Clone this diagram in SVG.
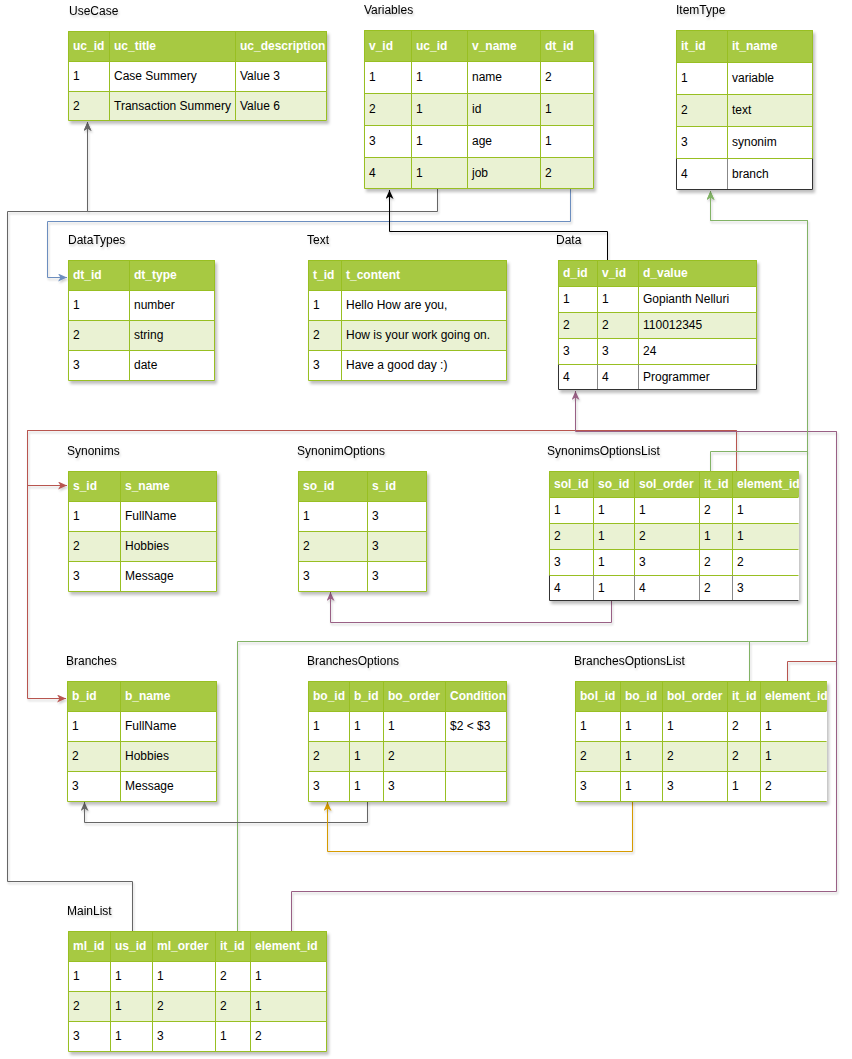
<svg xmlns="http://www.w3.org/2000/svg" width="852" height="1059" viewBox="0 0 852 1059">
<style>
text{font-family:"Liberation Sans",Arial,sans-serif;font-size:12px;}
.lbl{fill:#000;}
.ht{fill:#fff;font-weight:bold;}
.ct{fill:#000;}
.hdr{fill:#A7C942;}
.w{fill:#fff;}
.alt{fill:#EAF2D3;}
.grid{fill:none;stroke:#98bf21;stroke-width:1;}
.dk{fill:none;stroke:#333;stroke-width:1;}
.dkv{fill:none;stroke:#888;stroke-width:1;}
.edge{fill:none;stroke-width:1;}
</style>
<defs>
<filter id="sh" x="-10%" y="-10%" width="130%" height="130%"><feDropShadow dx="2" dy="3" stdDeviation="1.5" flood-color="#000" flood-opacity="0.25"/></filter>
<filter id="tsh" x="-10%" y="-30%" width="130%" height="180%"><feDropShadow dx="1" dy="2" stdDeviation="1" flood-color="#000" flood-opacity="0.2"/></filter>
<marker id="aGray" markerUnits="userSpaceOnUse" markerWidth="10" markerHeight="8" refX="9" refY="4" orient="auto"><path d="M0,0 L9,4 L0,8 L2.5,4 Z" fill="#666"/></marker>
<marker id="aBlue" markerUnits="userSpaceOnUse" markerWidth="10" markerHeight="8" refX="9" refY="4" orient="auto"><path d="M0,0 L9,4 L0,8 L2.5,4 Z" fill="#6c8ebf"/></marker>
<marker id="aBlack" markerUnits="userSpaceOnUse" markerWidth="10" markerHeight="8" refX="9" refY="4" orient="auto"><path d="M0,0 L9,4 L0,8 L2.5,4 Z" fill="#000"/></marker>
<marker id="aRed" markerUnits="userSpaceOnUse" markerWidth="10" markerHeight="8" refX="9" refY="4" orient="auto"><path d="M0,0 L9,4 L0,8 L2.5,4 Z" fill="#b85450"/></marker>
<marker id="aMauve" markerUnits="userSpaceOnUse" markerWidth="10" markerHeight="8" refX="9" refY="4" orient="auto"><path d="M0,0 L9,4 L0,8 L2.5,4 Z" fill="#996185"/></marker>
<marker id="aGreen" markerUnits="userSpaceOnUse" markerWidth="10" markerHeight="8" refX="9" refY="4" orient="auto"><path d="M0,0 L9,4 L0,8 L2.5,4 Z" fill="#82b366"/></marker>
<marker id="aYellow" markerUnits="userSpaceOnUse" markerWidth="10" markerHeight="8" refX="9" refY="4" orient="auto"><path d="M0,0 L9,4 L0,8 L2.5,4 Z" fill="#d79b00"/></marker>
</defs>
<rect width="852" height="1059" fill="#fff"/>

<g id="connectors" filter="url(#tsh)">
<path class="edge" stroke="#666" d="M132.5,931 V881.5 H7.5 V211.5 H87.5 V122" marker-end="url(#aGray)"/>
<path class="edge" stroke="#666" d="M437.5,189 V211.5 H87.5 V122" marker-end="url(#aGray)"/>
<path class="edge" stroke="#6c8ebf" d="M570.5,189 V221.5 H47.5 V277.5 H67" marker-end="url(#aBlue)"/>
<path class="edge" stroke="#000" d="M607.5,260 V231.5 H389.5 V190" marker-end="url(#aBlack)"/>
<path class="edge" stroke="#b85450" d="M787.5,681 V661.5 H836.5 V431.5"/>
<path class="edge" stroke="#b85450" d="M736.5,471 V430.5 H27.5 V485.5 H67" marker-end="url(#aRed)"/>
<path class="edge" stroke="#b85450" d="M736.5,471 V430.5 H27.5 V698.5 H66" marker-end="url(#aRed)"/>
<path class="edge" stroke="#996185" d="M291.5,931 V891.5 H836.5 V431.5 H575.5 V391" marker-end="url(#aMauve)"/>
<path class="edge" stroke="#996185" d="M611.5,601 V622.5 H330.5 V592" marker-end="url(#aMauve)"/>
<path class="edge" stroke="#82b366" d="M237.5,931 V641.5 H807.5 V220.5 H710.5 V191" marker-end="url(#aGreen)"/>
<path class="edge" stroke="#82b366" d="M710.5,471 V451.5 H807.5 V220.5 H710.5 V191" marker-end="url(#aGreen)"/>
<path class="edge" stroke="#82b366" d="M749.5,681 V641.5 H807.5"/>
<path class="edge" stroke="#666" d="M367.5,801 V822.5 H84.5 V802" marker-end="url(#aGray)"/>
<path class="edge" stroke="#d79b00" d="M632.5,801 V851.5 H327.5 V802" marker-end="url(#aYellow)"/>
</g>

<g id="usecase">
<text class="lbl" x="69" y="15" filter="url(#tsh)">UseCase</text>
<g filter="url(#sh)">
<rect class="hdr" x="68" y="31" width="259" height="30"/>
<rect class="w" x="68" y="61" width="259" height="30"/>
<rect class="alt" x="68" y="91" width="259" height="30"/>
<path class="grid" d="M68.5,31.5 H326.5 V120.5 H68.5 Z M68.5,61.5 H326.5 M68.5,91.5 H326.5 M109.5,31.5 V120.5 M235.5,31.5 V120.5"/>
</g>
<text class="ht" x="73" y="50">uc_id</text><text class="ht" x="114" y="50">uc_title</text><text class="ht" x="240" y="50">uc_description</text>
<text class="ct" x="73" y="80">1</text><text class="ct" x="114" y="80">Case Summery</text><text class="ct" x="240" y="80">Value 3</text>
<text class="ct" x="73" y="110">2</text><text class="ct" x="114" y="110">Transaction Summery</text><text class="ct" x="240" y="110">Value 6</text>
</g>

<g id="variables">
<text class="lbl" x="364" y="14" filter="url(#tsh)">Variables</text>
<g filter="url(#sh)">
<rect class="hdr" x="364" y="30" width="230" height="31"/>
<rect class="w" x="364" y="61" width="230" height="32"/>
<rect class="alt" x="364" y="93" width="230" height="32"/>
<rect class="w" x="364" y="125" width="230" height="32"/>
<rect class="alt" x="364" y="157" width="230" height="32"/>
<path class="grid" d="M364.5,30.5 H593.5 V188.5 H364.5 Z M364.5,61.5 H593.5 M364.5,93.5 H593.5 M364.5,125.5 H593.5 M364.5,157.5 H593.5 M411.5,30.5 V188.5 M467.5,30.5 V188.5 M540.5,30.5 V188.5"/>
</g>
<text class="ht" x="369" y="50">v_id</text><text class="ht" x="416" y="50">uc_id</text><text class="ht" x="472" y="50">v_name</text><text class="ht" x="545" y="50">dt_id</text>
<text class="ct" x="369" y="81">1</text><text class="ct" x="416" y="81">1</text><text class="ct" x="472" y="81">name</text><text class="ct" x="545" y="81">2</text>
<text class="ct" x="369" y="113">2</text><text class="ct" x="416" y="113">1</text><text class="ct" x="472" y="113">id</text><text class="ct" x="545" y="113">1</text>
<text class="ct" x="369" y="145">3</text><text class="ct" x="416" y="145">1</text><text class="ct" x="472" y="145">age</text><text class="ct" x="545" y="145">1</text>
<text class="ct" x="369" y="177">4</text><text class="ct" x="416" y="177">1</text><text class="ct" x="472" y="177">job</text><text class="ct" x="545" y="177">2</text>
</g>

<g id="itemtype">
<text class="lbl" x="676" y="14" filter="url(#tsh)">ItemType</text>
<g filter="url(#sh)">
<rect class="hdr" x="676" y="30" width="137" height="32"/>
<rect class="w" x="676" y="62" width="137" height="32"/>
<rect class="alt" x="676" y="94" width="137" height="32"/>
<rect class="w" x="676" y="126" width="137" height="32"/>
<rect class="w" x="676" y="158" width="137" height="32"/>
<path class="grid" d="M676.5,158.5 V30.5 H812.5 V158.5 Z M676.5,62.5 H812.5 M676.5,94.5 H812.5 M676.5,126.5 H812.5 M727.5,30.5 V158.5"/>
<path class="dkv" d="M727.5,158.5 V189.5"/>
<path class="dk" d="M676.5,158.5 V189.5 H812.5 V158.5"/>
</g>
<text class="ht" x="681" y="50">it_id</text><text class="ht" x="732" y="50">it_name</text>
<text class="ct" x="681" y="82">1</text><text class="ct" x="732" y="82">variable</text>
<text class="ct" x="681" y="114">2</text><text class="ct" x="732" y="114">text</text>
<text class="ct" x="681" y="146">3</text><text class="ct" x="732" y="146">synonim</text>
<text class="ct" x="681" y="178">4</text><text class="ct" x="732" y="178">branch</text>
</g>

<g id="datatypes">
<text class="lbl" x="68" y="244" filter="url(#tsh)">DataTypes</text>
<g filter="url(#sh)">
<rect class="hdr" x="68" y="260" width="147" height="30"/>
<rect class="w" x="68" y="290" width="147" height="30"/>
<rect class="alt" x="68" y="320" width="147" height="30"/>
<rect class="w" x="68" y="350" width="147" height="30"/>
<path class="grid" d="M68.5,260.5 H214.5 V380.5 H68.5 Z M68.5,290.5 H214.5 M68.5,320.5 H214.5 M68.5,350.5 H214.5 M129.5,260.5 V380.5"/>
</g>
<text class="ht" x="73" y="279">dt_id</text><text class="ht" x="134" y="279">dt_type</text>
<text class="ct" x="73" y="309">1</text><text class="ct" x="134" y="309">number</text>
<text class="ct" x="73" y="339">2</text><text class="ct" x="134" y="339">string</text>
<text class="ct" x="73" y="369">3</text><text class="ct" x="134" y="369">date</text>
</g>

<g id="text">
<text class="lbl" x="307" y="244" filter="url(#tsh)">Text</text>
<g filter="url(#sh)">
<rect class="hdr" x="308" y="260" width="199" height="30"/>
<rect class="w" x="308" y="290" width="199" height="30"/>
<rect class="alt" x="308" y="320" width="199" height="30"/>
<rect class="w" x="308" y="350" width="199" height="30"/>
<path class="grid" d="M308.5,260.5 H506.5 V380.5 H308.5 Z M308.5,290.5 H506.5 M308.5,320.5 H506.5 M308.5,350.5 H506.5 M341.5,260.5 V380.5"/>
</g>
<text class="ht" x="313" y="279">t_id</text><text class="ht" x="346" y="279">t_content</text>
<text class="ct" x="313" y="309">1</text><text class="ct" x="346" y="309">Hello How are you,</text>
<text class="ct" x="313" y="339">2</text><text class="ct" x="346" y="339">How is your work going on.</text>
<text class="ct" x="313" y="369">3</text><text class="ct" x="346" y="369">Have a good day :)</text>
</g>

<g id="data">
<text class="lbl" x="556" y="244" filter="url(#tsh)">Data</text>
<g filter="url(#sh)">
<rect class="hdr" x="558" y="260" width="199" height="26"/>
<rect class="w" x="558" y="286" width="199" height="26"/>
<rect class="alt" x="558" y="312" width="199" height="26"/>
<rect class="w" x="558" y="338" width="199" height="26"/>
<rect class="w" x="558" y="364" width="199" height="26"/>
<path class="grid" d="M558.5,364.5 V260.5 H756.5 V364.5 Z M558.5,286.5 H756.5 M558.5,312.5 H756.5 M558.5,338.5 H756.5 M597.5,260.5 V364.5 M638.5,260.5 V364.5"/>
<path class="dkv" d="M597.5,364.5 V389.5 M638.5,364.5 V389.5"/>
<path class="dk" d="M558.5,364.5 V389.5 H756.5 V364.5"/>
</g>
<text class="ht" x="563" y="277">d_id</text><text class="ht" x="602" y="277">v_id</text><text class="ht" x="643" y="277">d_value</text>
<text class="ct" x="563" y="303">1</text><text class="ct" x="602" y="303">1</text><text class="ct" x="643" y="303">Gopianth Nelluri</text>
<text class="ct" x="563" y="329">2</text><text class="ct" x="602" y="329">2</text><text class="ct" x="643" y="329">110012345</text>
<text class="ct" x="563" y="355">3</text><text class="ct" x="602" y="355">3</text><text class="ct" x="643" y="355">24</text>
<text class="ct" x="563" y="381">4</text><text class="ct" x="602" y="381">4</text><text class="ct" x="643" y="381">Programmer</text>
</g>

<g id="synonims">
<text class="lbl" x="67" y="455" filter="url(#tsh)">Synonims</text>
<g filter="url(#sh)">
<rect class="hdr" x="68" y="471" width="149" height="30"/>
<rect class="w" x="68" y="501" width="149" height="30"/>
<rect class="alt" x="68" y="531" width="149" height="30"/>
<rect class="w" x="68" y="561" width="149" height="30"/>
<path class="grid" d="M68.5,471.5 H216.5 V591.5 H68.5 Z M68.5,501.5 H216.5 M68.5,531.5 H216.5 M68.5,561.5 H216.5 M120.5,471.5 V591.5"/>
</g>
<text class="ht" x="73" y="490">s_id</text><text class="ht" x="125" y="490">s_name</text>
<text class="ct" x="73" y="520">1</text><text class="ct" x="125" y="520">FullName</text>
<text class="ct" x="73" y="550">2</text><text class="ct" x="125" y="550">Hobbies</text>
<text class="ct" x="73" y="580">3</text><text class="ct" x="125" y="580">Message</text>
</g>

<g id="synonimoptions">
<text class="lbl" x="297" y="455" filter="url(#tsh)">SynonimOptions</text>
<g filter="url(#sh)">
<rect class="hdr" x="298" y="471" width="129" height="30"/>
<rect class="w" x="298" y="501" width="129" height="30"/>
<rect class="alt" x="298" y="531" width="129" height="30"/>
<rect class="w" x="298" y="561" width="129" height="30"/>
<path class="grid" d="M298.5,471.5 H426.5 V591.5 H298.5 Z M298.5,501.5 H426.5 M298.5,531.5 H426.5 M298.5,561.5 H426.5 M367.5,471.5 V591.5"/>
</g>
<text class="ht" x="303" y="490">so_id</text><text class="ht" x="372" y="490">s_id</text>
<text class="ct" x="303" y="520">1</text><text class="ct" x="372" y="520">3</text>
<text class="ct" x="303" y="550">2</text><text class="ct" x="372" y="550">3</text>
<text class="ct" x="303" y="580">3</text><text class="ct" x="372" y="580">3</text>
</g>

<g id="synonimsoptionslist">
<text class="lbl" x="547" y="455" filter="url(#tsh)">SynonimsOptionsList</text>
<g filter="url(#sh)">
<rect class="hdr" x="549" y="471" width="250" height="26"/>
<rect class="w" x="549" y="497" width="250" height="26"/>
<rect class="alt" x="549" y="523" width="250" height="26"/>
<rect class="w" x="549" y="549" width="250" height="26"/>
<rect class="w" x="549" y="575" width="250" height="26"/>
<path class="grid" d="M549.5,575.5 V471.5 H798.5 M549.5,497.5 H798.5 M549.5,523.5 H798.5 M549.5,549.5 H798.5 M549.5,575.5 H798.5 M593.5,471.5 V575.5 M634.5,471.5 V575.5 M699.5,471.5 V575.5 M732.5,471.5 V575.5"/>
<path class="dkv" d="M593.5,575.5 V600.5 M634.5,575.5 V600.5 M699.5,575.5 V600.5 M732.5,575.5 V600.5"/>
<path class="dk" d="M549.5,575.5 V600.5 H798.5"/>
</g>
<text class="ht" x="554" y="488">sol_id</text><text class="ht" x="598" y="488">so_id</text><text class="ht" x="639" y="488">sol_order</text><text class="ht" x="704" y="488">it_id</text><text class="ht" x="737" y="488">element_id</text>
<text class="ct" x="554" y="514">1</text><text class="ct" x="598" y="514">1</text><text class="ct" x="639" y="514">1</text><text class="ct" x="704" y="514">2</text><text class="ct" x="737" y="514">1</text>
<text class="ct" x="554" y="540">2</text><text class="ct" x="598" y="540">1</text><text class="ct" x="639" y="540">2</text><text class="ct" x="704" y="540">1</text><text class="ct" x="737" y="540">1</text>
<text class="ct" x="554" y="566">3</text><text class="ct" x="598" y="566">1</text><text class="ct" x="639" y="566">3</text><text class="ct" x="704" y="566">2</text><text class="ct" x="737" y="566">2</text>
<text class="ct" x="554" y="592">4</text><text class="ct" x="598" y="592">1</text><text class="ct" x="639" y="592">4</text><text class="ct" x="704" y="592">2</text><text class="ct" x="737" y="592">3</text>
</g>

<g id="branches">
<text class="lbl" x="66" y="665" filter="url(#tsh)">Branches</text>
<g filter="url(#sh)">
<rect class="hdr" x="67" y="681" width="150" height="30"/>
<rect class="w" x="67" y="711" width="150" height="30"/>
<rect class="alt" x="67" y="741" width="150" height="30"/>
<rect class="w" x="67" y="771" width="150" height="30"/>
<path class="grid" d="M67.5,681.5 H216.5 V801.5 H67.5 Z M67.5,711.5 H216.5 M67.5,741.5 H216.5 M67.5,771.5 H216.5 M120.5,681.5 V801.5"/>
</g>
<text class="ht" x="72" y="700">b_id</text><text class="ht" x="125" y="700">b_name</text>
<text class="ct" x="72" y="730">1</text><text class="ct" x="125" y="730">FullName</text>
<text class="ct" x="72" y="760">2</text><text class="ct" x="125" y="760">Hobbies</text>
<text class="ct" x="72" y="790">3</text><text class="ct" x="125" y="790">Message</text>
</g>

<g id="branchesoptions">
<text class="lbl" x="307" y="665" filter="url(#tsh)">BranchesOptions</text>
<g filter="url(#sh)">
<rect class="hdr" x="308" y="681" width="199" height="30"/>
<rect class="w" x="308" y="711" width="199" height="30"/>
<rect class="alt" x="308" y="741" width="199" height="30"/>
<rect class="w" x="308" y="771" width="199" height="30"/>
<path class="grid" d="M308.5,681.5 H506.5 V801.5 H308.5 Z M308.5,711.5 H506.5 M308.5,741.5 H506.5 M308.5,771.5 H506.5 M349.5,681.5 V801.5 M383.5,681.5 V801.5 M445.5,681.5 V801.5"/>
</g>
<text class="ht" x="313" y="700">bo_id</text><text class="ht" x="354" y="700">b_id</text><text class="ht" x="388" y="700">bo_order</text><text class="ht" x="450" y="700">Condition</text>
<text class="ct" x="313" y="730">1</text><text class="ct" x="354" y="730">1</text><text class="ct" x="388" y="730">1</text><text class="ct" x="450" y="730">$2 &lt; $3</text>
<text class="ct" x="313" y="760">2</text><text class="ct" x="354" y="760">1</text><text class="ct" x="388" y="760">2</text>
<text class="ct" x="313" y="790">3</text><text class="ct" x="354" y="790">1</text><text class="ct" x="388" y="790">3</text>
</g>

<g id="branchesoptionslist">
<text class="lbl" x="574" y="665" filter="url(#tsh)">BranchesOptionsList</text>
<g filter="url(#sh)">
<rect class="hdr" x="575" y="681" width="252" height="30"/>
<rect class="w" x="575" y="711" width="252" height="30"/>
<rect class="alt" x="575" y="741" width="252" height="30"/>
<rect class="w" x="575" y="771" width="252" height="30"/>
<path class="grid" d="M575.5,681.5 H826.5 M575.5,681.5 V801.5 H826.5 M575.5,711.5 H826.5 M575.5,741.5 H826.5 M575.5,771.5 H826.5 M620.5,681.5 V801.5 M662.5,681.5 V801.5 M727.5,681.5 V801.5 M760.5,681.5 V801.5"/>
</g>
<text class="ht" x="580" y="700">bol_id</text><text class="ht" x="625" y="700">bo_id</text><text class="ht" x="667" y="700">bol_order</text><text class="ht" x="732" y="700">it_id</text><text class="ht" x="765" y="700">element_id</text>
<text class="ct" x="580" y="730">1</text><text class="ct" x="625" y="730">1</text><text class="ct" x="667" y="730">1</text><text class="ct" x="732" y="730">2</text><text class="ct" x="765" y="730">1</text>
<text class="ct" x="580" y="760">2</text><text class="ct" x="625" y="760">1</text><text class="ct" x="667" y="760">2</text><text class="ct" x="732" y="760">2</text><text class="ct" x="765" y="760">1</text>
<text class="ct" x="580" y="790">3</text><text class="ct" x="625" y="790">1</text><text class="ct" x="667" y="790">3</text><text class="ct" x="732" y="790">1</text><text class="ct" x="765" y="790">2</text>
</g>

<g id="mainlist">
<text class="lbl" x="67" y="915" filter="url(#tsh)">MainList</text>
<g filter="url(#sh)">
<rect class="hdr" x="68" y="931" width="259" height="30"/>
<rect class="w" x="68" y="961" width="259" height="30"/>
<rect class="alt" x="68" y="991" width="259" height="30"/>
<rect class="w" x="68" y="1021" width="259" height="30"/>
<path class="grid" d="M68.5,931.5 H326.5 V1051.5 H68.5 Z M68.5,961.5 H326.5 M68.5,991.5 H326.5 M68.5,1021.5 H326.5 M110.5,931.5 V1051.5 M152.5,931.5 V1051.5 M215.5,931.5 V1051.5 M250.5,931.5 V1051.5"/>
</g>
<text class="ht" x="73" y="950">ml_id</text><text class="ht" x="115" y="950">us_id</text><text class="ht" x="157" y="950">ml_order</text><text class="ht" x="220" y="950">it_id</text><text class="ht" x="255" y="950">element_id</text>
<text class="ct" x="73" y="980">1</text><text class="ct" x="115" y="980">1</text><text class="ct" x="157" y="980">1</text><text class="ct" x="220" y="980">2</text><text class="ct" x="255" y="980">1</text>
<text class="ct" x="73" y="1010">2</text><text class="ct" x="115" y="1010">1</text><text class="ct" x="157" y="1010">2</text><text class="ct" x="220" y="1010">2</text><text class="ct" x="255" y="1010">1</text>
<text class="ct" x="73" y="1040">3</text><text class="ct" x="115" y="1040">1</text><text class="ct" x="157" y="1040">3</text><text class="ct" x="220" y="1040">1</text><text class="ct" x="255" y="1040">2</text>
</g>
</svg>
